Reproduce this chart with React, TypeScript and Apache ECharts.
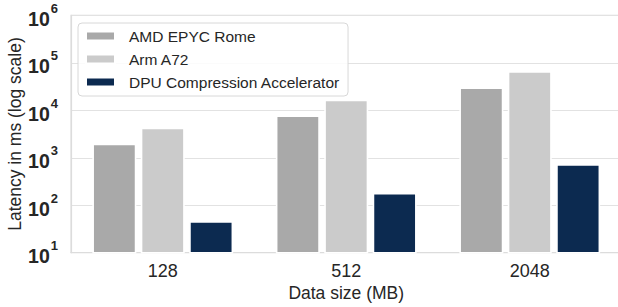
import React, { useEffect, useRef } from "react";
import * as echarts from "echarts";

const categories = ["128", "512", "2048"];
const seriesNames = ["AMD EPYC Rome", "Arm A72", "DPU Compression Accelerator"];
const amdValues = [1980, 7800, 30500];
const armValues = [4300, 16800, 66500];
const dpuValues = [46, 182, 736];
const seriesColors = ["#a9a9a9", "#cbcbcb", "#0c2a50"];
const yTickValues = [10, 100, 1000, 10000, 100000, 1000000];

const FONT = "'Liberation Sans', Arial, Helvetica, sans-serif";
const TEXT = "#262626";

export default function App() {
  const ref = useRef<HTMLDivElement>(null);
  useEffect(() => {
    if (!ref.current) return;
    const chart = echarts.init(ref.current, undefined, { renderer: "svg" });
    const values = [amdValues, armValues, dpuValues];
    chart.setOption({
      animation: false,
      textStyle: { fontFamily: FONT, color: TEXT },
      grid: {
        left: 71,
        top: 15.4,
        bottom: 54.3,
        width: 550.5,
        outerBoundsMode: "none",
        containLabel: false,
        show: true,
        borderColor: "#dcdcdc",
        borderWidth: 1.2,
        backgroundColor: "#ffffff",
      },
      legend: {
        orient: "vertical",
        left: 78,
        top: 23,
        itemWidth: 29,
        itemHeight: 9,
        itemGap: 7,
        padding: [5, 8, 6, 7],
        backgroundColor: "rgba(255,255,255,0.85)",
        borderColor: "#d8d8d8",
        borderWidth: 1,
        borderRadius: 4,
        textStyle: { fontFamily: FONT, fontSize: 15.5, color: TEXT, padding: [0, 0, 0, 9] },
        data: seriesNames.map((n) => ({ name: n, icon: "rect" })),
      },
      xAxis: {
        type: "category",
        data: categories,
        name: "Data size (MB)",
        nameLocation: "middle",
        nameGap: 31,
        nameMoveOverlap: false,
        nameTextStyle: { fontFamily: FONT, fontSize: 17.5, color: TEXT },
        axisLine: { show: true, lineStyle: { color: "#dcdcdc", width: 1.2 } },
        axisTick: { show: false },
        axisLabel: { fontFamily: FONT, fontSize: 18, color: TEXT, margin: 9 },
        splitLine: { show: false },
      },
      yAxis: {
        type: "log",
        logBase: 10,
        min: yTickValues[0],
        max: yTickValues[yTickValues.length - 1],
        name: "Latency in ms (log scale)",
        nameLocation: "middle",
        nameGap: 47,
        nameMoveOverlap: false,
        nameTextStyle: { fontFamily: FONT, fontSize: 17.5, color: TEXT },
        axisLine: { show: true, lineStyle: { color: "#dcdcdc", width: 1.2 } },
        axisTick: { show: false },
        minorTick: { show: false },
        splitLine: { show: true, lineStyle: { color: "#e2e2e2", width: 1.2 } },
        axisLabel: {
          margin: 13,
          formatter: (v: number) => {
            const e = Math.round(Math.log10(v));
            return `{b|10}{s|${e}}`;
          },
          rich: {
            b: { fontFamily: FONT, fontSize: 19.5, fontWeight: "bold", color: TEXT, lineHeight: 27, verticalAlign: "bottom" },
            s: { fontFamily: FONT, fontSize: 13, fontWeight: "bold", color: TEXT, lineHeight: 27, verticalAlign: "top", padding: [0, 0, 0, 1] },
          },
        },
      },
      series: seriesNames.map((name, i) => ({
        name,
        type: "bar",
        data: values[i],
        barWidth: 44,
        barGap: "10%",
        itemStyle: { color: seriesColors[i], borderColor: "#ffffff", borderWidth: 1.6 },
      })),
    });
    return () => chart.dispose();
  }, []);
  return (
    <div style={{ position: "absolute", left: 0, top: 0, width: 618, height: 307, overflow: "hidden" }}>
      <div ref={ref} style={{ position: "absolute", left: 0, top: 0, width: 640, height: 307 }} />
    </div>
  );
}
